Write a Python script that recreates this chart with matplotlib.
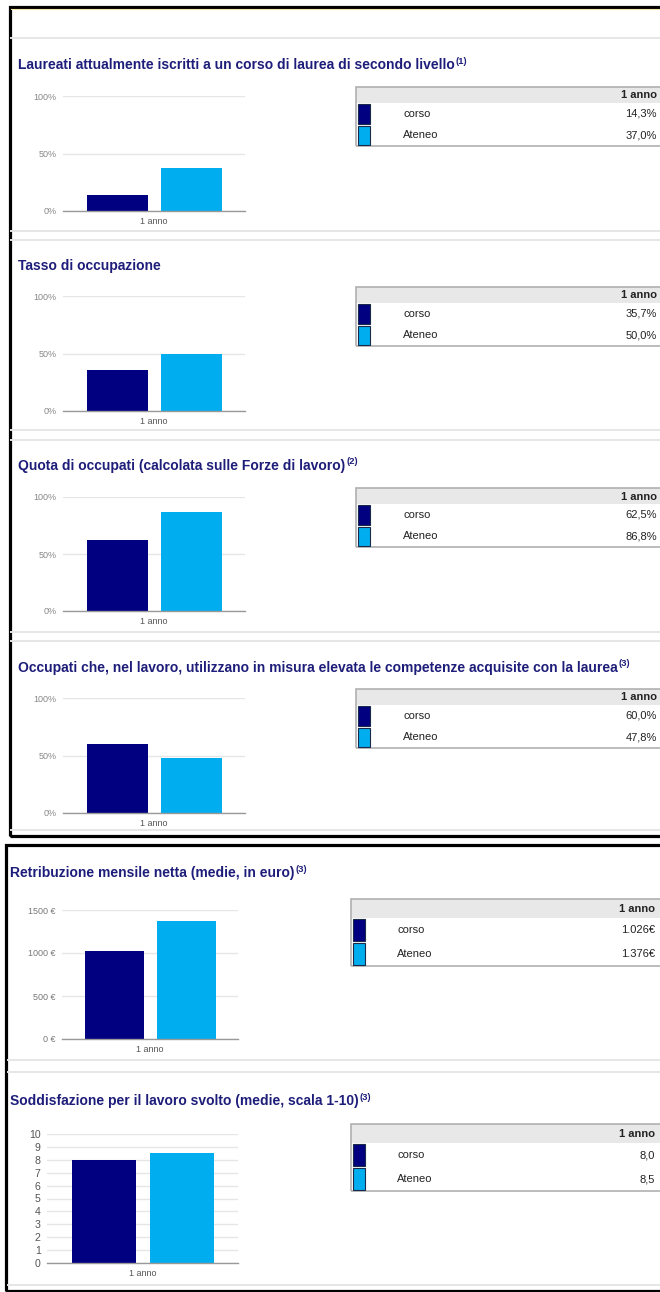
import matplotlib
matplotlib.use("Agg")
import matplotlib.pyplot as plt
from matplotlib.patches import Rectangle
from matplotlib.lines import Line2D

plt.rcParams['font.family'] = ['Liberation Sans', 'DejaVu Sans']

# ---------------- data ----------------
titles = [
    "Laureati attualmente iscritti a un corso di laurea di secondo livello",
    "Tasso di occupazione",
    "Quota di occupati (calcolata sulle Forze di lavoro)",
    "Occupati che, nel lavoro, utilizzano in misura elevata le competenze acquisite con la laurea",
    "Retribuzione mensile netta (medie, in euro)",
    "Soddisfazione per il lavoro svolto (medie, scala 1-10)",
]
notes = ["(1)", "", "(2)", "(3)", "(3)", "(3)"]
category = "1 anno"
series = ["corso", "Ateneo"]
corso = [14.3, 35.7, 62.5, 60.0, 1026, 8.0]
ateneo = [37.0, 50.0, 86.8, 47.8, 1376, 8.5]
corso_lbl = ["14,3%", "35,7%", "62,5%", "60,0%", "1.026€", "8,0"]
ateneo_lbl = ["37,0%", "50,0%", "86,8%", "47,8%", "1.376€", "8,5"]
pct_ticks = [0, 50, 100]
pct_ticklabels = ["0%", "50%", "100%"]
eur_ticks = [0, 500, 1000, 1500]
eur_ticklabels = ["0 €", "500 €", "1000 €", "1500 €"]
sat_ticks = list(range(0, 11))
sat_ticklabels = [str(v) for v in sat_ticks]
ticks = [pct_ticks] * 4 + [eur_ticks, sat_ticks]
ticklabels = [pct_ticklabels] * 4 + [eur_ticklabels, sat_ticklabels]

# ---------------- style / layout ----------------
DARK = "#010080"
LIGHT = "#00aeef"
TITLE_C = "#1e1e7a"
W, H = 660, 1292
fig = plt.figure(figsize=(W / 100, H / 100), dpi=100)
fig.patch.set_facecolor("white")

def px2fig(x, y):
    return x / W, 1 - y / H

def add_ax(x0, x1, ytop, ybot):
    return fig.add_axes([x0 / W, 1 - ybot / H, (x1 - x0) / W, (ybot - ytop) / H])

def hline(y, x0, x1, color, lw):
    fig.add_artist(Line2D([x0 / W, x1 / W], [1 - y / H, 1 - y / H], color=color, lw=lw,
                          transform=fig.transFigure))

def rect(x0, y0, x1, y1, **kw):
    fig.add_artist(Rectangle((x0 / W, 1 - y1 / H), (x1 - x0) / W, (y1 - y0) / H,
                             transform=fig.transFigure, **kw))

# layout per section: title pos, axes box, tick font, table geometry
layout = [
    dict(tx=18, ty=65, ax=(63, 245, 96, 211), tfs=6.5, tcol="#888888", tab=(356, 87, 16, 21.5), frame=1),
    dict(tx=18, ty=266, ax=(63, 245, 296, 411), tfs=6.5, tcol="#888888", tab=(356, 287, 16, 21.5), frame=1),
    dict(tx=18, ty=466, ax=(63, 245, 497, 611), tfs=6.5, tcol="#888888", tab=(356, 488, 16, 21.5), frame=1),
    dict(tx=18, ty=668, ax=(63, 245, 698, 813), tfs=6.5, tcol="#888888", tab=(356, 689, 16, 21.5), frame=1),
    dict(tx=10, ty=873, ax=(62, 238, 910, 1039), tfs=6.5, tcol="#777777", tab=(351, 899, 19, 24), frame=2),
    dict(tx=10, ty=1101, ax=(47, 238, 1134, 1263), tfs=7.6, tcol="#555555", tab=(351, 1124, 19, 24), frame=2),
]

# section separators (light gray)
for y in [38, 231, 240, 430, 440, 632, 641, 830]:
    hline(y, 11, 662, "#e6e6e6", 1.4)
for y in [1060, 1072, 1285]:
    hline(y, 8, 662, "#e6e6e6", 1.4)

renderer = fig.canvas.get_renderer()

for i, L in enumerate(layout):
    # title
    tx, ty = px2fig(L["tx"], L["ty"])
    t = fig.text(tx, ty, titles[i], fontsize=10, fontweight="bold", color=TITLE_C,
                 ha="left", va="center")
    if notes[i]:
        bb = t.get_window_extent(renderer)
        fig.text((bb.x1 + 1) / W, ty + 4 / H, notes[i], fontsize=6.8, fontweight="bold",
                 color=TITLE_C, ha="left", va="center")

    # chart
    x0, x1, yt, yb = L["ax"]
    ax = add_ax(x0, x1, yt, yb)
    ax.bar([0.3], [corso[i]], width=0.335, color=DARK, zorder=3)
    ax.bar([0.705], [ateneo[i]], width=0.335, color=LIGHT, zorder=3)
    ax.set_xlim(0, 1)
    ax.set_ylim(ticks[i][0], ticks[i][-1])
    ax.set_yticks(ticks[i])
    ax.set_yticklabels(ticklabels[i], fontsize=L["tfs"], color=L["tcol"])
    ax.set_xticks([0.5])
    ax.set_xticklabels([category], fontsize=6.5, color="#555555")
    ax.tick_params(axis="both", length=0)
    ax.tick_params(axis="y", pad=4.5)
    ax.tick_params(axis="x", pad=4.5)
    for s in ["top", "right", "left"]:
        ax.spines[s].set_visible(False)
    ax.spines["bottom"].set_color("#999999")
    ax.spines["bottom"].set_linewidth(1.0)
    ax.spines["bottom"].set_zorder(4)
    ax.yaxis.grid(True, color="#e6e6e6", lw=1.0, zorder=0)
    ax.set_axisbelow(True)
    ax.patch.set_alpha(0)

    # table
    tl, tt, hh, rh = L["tab"]
    tr = 663
    rect(tl, tt, tr, tt + hh, facecolor="#e8e8e8", edgecolor="none")
    rect(tl, tt, tr, tt + hh + 2 * rh, facecolor="none", edgecolor="#b0b0b0", lw=1.2)
    fig.text((657 if L["frame"] == 1 else 655) / W, 1 - (tt + hh / 2 + 0.5) / H, category,
             fontsize=8, fontweight="bold", color="#222222", ha="right", va="center")
    vals = [corso_lbl[i], ateneo_lbl[i]]
    cols = [DARK, LIGHT]
    name_x = 403 if L["frame"] == 1 else 397
    for r in range(2):
        ry0 = tt + hh + r * rh
        rect(tl + 1.5, ry0 + 1, tl + 14, ry0 + rh - 1, facecolor=cols[r],
             edgecolor="#1a2a4a", lw=0.8)
        cy = 1 - (ry0 + rh / 2) / H
        fig.text(name_x / W, cy, series[r], fontsize=8, color="#222222",
                 ha="left", va="center")
        fig.text((657 if L["frame"] == 1 else 655) / W, cy, vals[r], fontsize=8,
                 color="#222222", ha="right", va="center")

# frames (thick black borders)
rect(9.5, 6.5, 680, 835.5, facecolor="none", edgecolor="black", lw=2.3)
hline(8.8, 11, 662, "#f3e6a6", 0.8)
rect(6.5, 844.5, 680, 1290.8, facecolor="none", edgecolor="black", lw=2.3)

fig.savefig("out.png", dpi=100, facecolor="white")
